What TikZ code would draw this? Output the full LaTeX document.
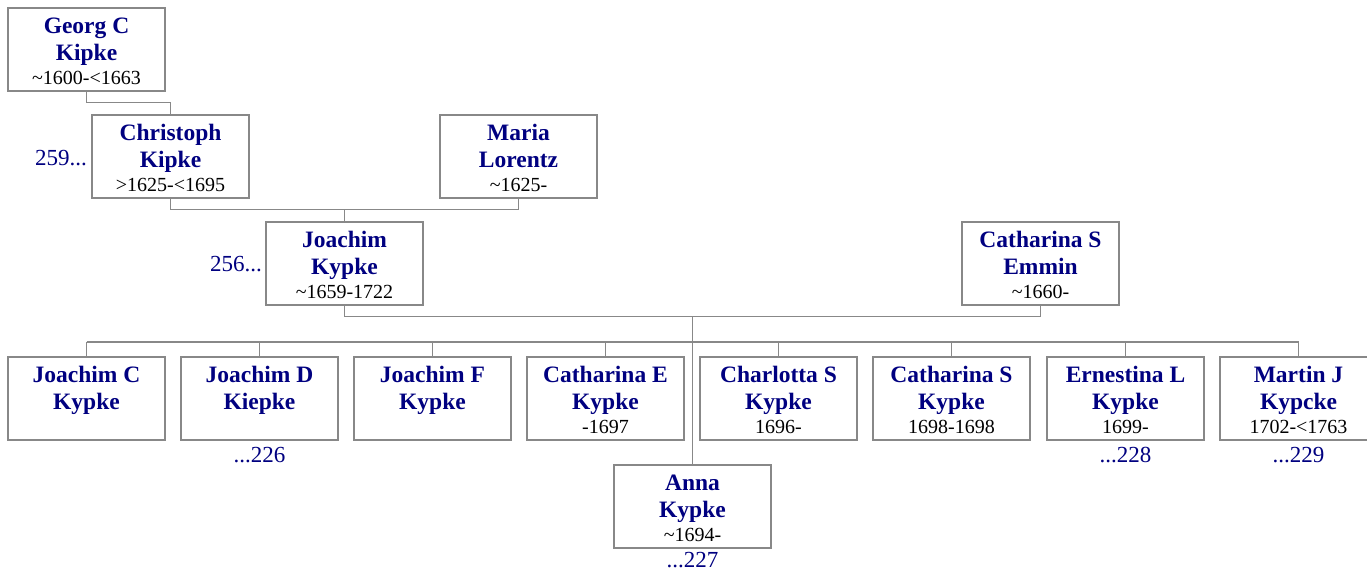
\documentclass[tikz,border=0pt]{standalone}
\usepackage{fontspec}
\setmainfont{Liberation Serif}
\usetikzlibrary{calc}
\definecolor{navy}{RGB}{0,0,128}
\definecolor{frame}{RGB}{136,136,136}
\tikzset{
 pbox/.style={draw=frame, line width=1.2pt, minimum width=157pt, minimum height=83pt, inner sep=0pt},
 nm/.style={text=navy, font=\fontsize{23.5}{26}\selectfont\bfseries, inner sep=0pt, anchor=base},
 dt/.style={text=black, font=\fontsize{20}{22}\selectfont, inner sep=0pt, anchor=base},
 ref/.style={text=navy, font=\fontsize{23}{26}\selectfont, inner sep=0pt},
 link/.style={draw=frame, line width=1.2pt},
}
\newcommand\person[6]{%
 \node[pbox] (#1) at (#2+78.5,#3+41.5) {};
 \node[nm] (#1a) at (#2+78.5,#3+25) {#4};
 \node[nm] (#1b) at (#2+78.5,#3+52) {#5};
 \node[dt] (#1c) at (#2+78.5,#3+76) {#6};
}
\begin{document}
\begin{tikzpicture}[x=1pt,y=-1pt]
\useasboundingbox (0,0) rectangle (1367,571);
\clip (0,0) rectangle (1367,571);
\person{georg}{8}{8}{Georg C}{Kipke}{\textasciitilde1600-<1663}
\person{chris}{92}{115}{Christoph}{Kipke}{>1625-<1695}
\person{maria}{440}{115}{Maria}{Lorentz}{\textasciitilde1625-}
\person{joachim}{266}{222}{Joachim}{Kypke}{\textasciitilde1659-1722}
\person{cath}{962}{222}{Catharina S}{Emmin}{\textasciitilde1660-}
\person{c1}{8}{357}{Joachim C}{Kypke}{}
\person{c2}{181}{357}{Joachim D}{Kiepke}{}
\person{c3}{354}{357}{Joachim F}{Kypke}{}
\person{c4}{527}{357}{Catharina E}{Kypke}{-1697}
\person{c5}{700}{357}{Charlotta S}{Kypke}{1696-}
\person{c6}{873}{357}{Catharina S}{Kypke}{1698-1698}
\person{c7}{1047}{357}{Ernestina L}{Kypke}{1699-}
\person{c8}{1220}{357}{Martin J}{Kypcke}{1702-<1763}
\person{anna}{614}{465}{Anna}{Kypke}{\textasciitilde1694-}

\draw[link] (georg.south) -- ++(0,11) -| (chris.north);
\draw[link] (chris.south) -- ++(0,11) coordinate (b1) -| (maria.south);
\draw[link] (joachim.north) -- (joachim.north |- b1);
\draw[link] (joachim.south) -- ++(0,11) coordinate (b2) -| (cath.south);
\draw[link] (anna.north) -- (anna.north |- b2);
\coordinate (b3) at (0,342);
\draw[link] (c1.north |- b3) -- (c8.north |- b3);
\foreach \c in {c1,c2,c3,c4,c5,c6,c7,c8}{
 \draw[link] (\c.north) -- (\c.north |- b3);
}

\node[ref, anchor=base east] (r259) at (87,165) {259...};
\node[ref, anchor=base east] (r256) at (262,271) {256...};
\node[ref, anchor=base] (r226) at ($(c2.south)+(0,22)$) {...226};
\node[ref, anchor=base] (r228) at ($(c7.south)+(0,22)$) {...228};
\node[ref, anchor=base] (r229) at ($(c8.south)+(0,22)$) {...229};
\node[ref, anchor=base] (r227) at ($(anna.south)+(0,19)$) {...227};
\end{tikzpicture}
\end{document}
